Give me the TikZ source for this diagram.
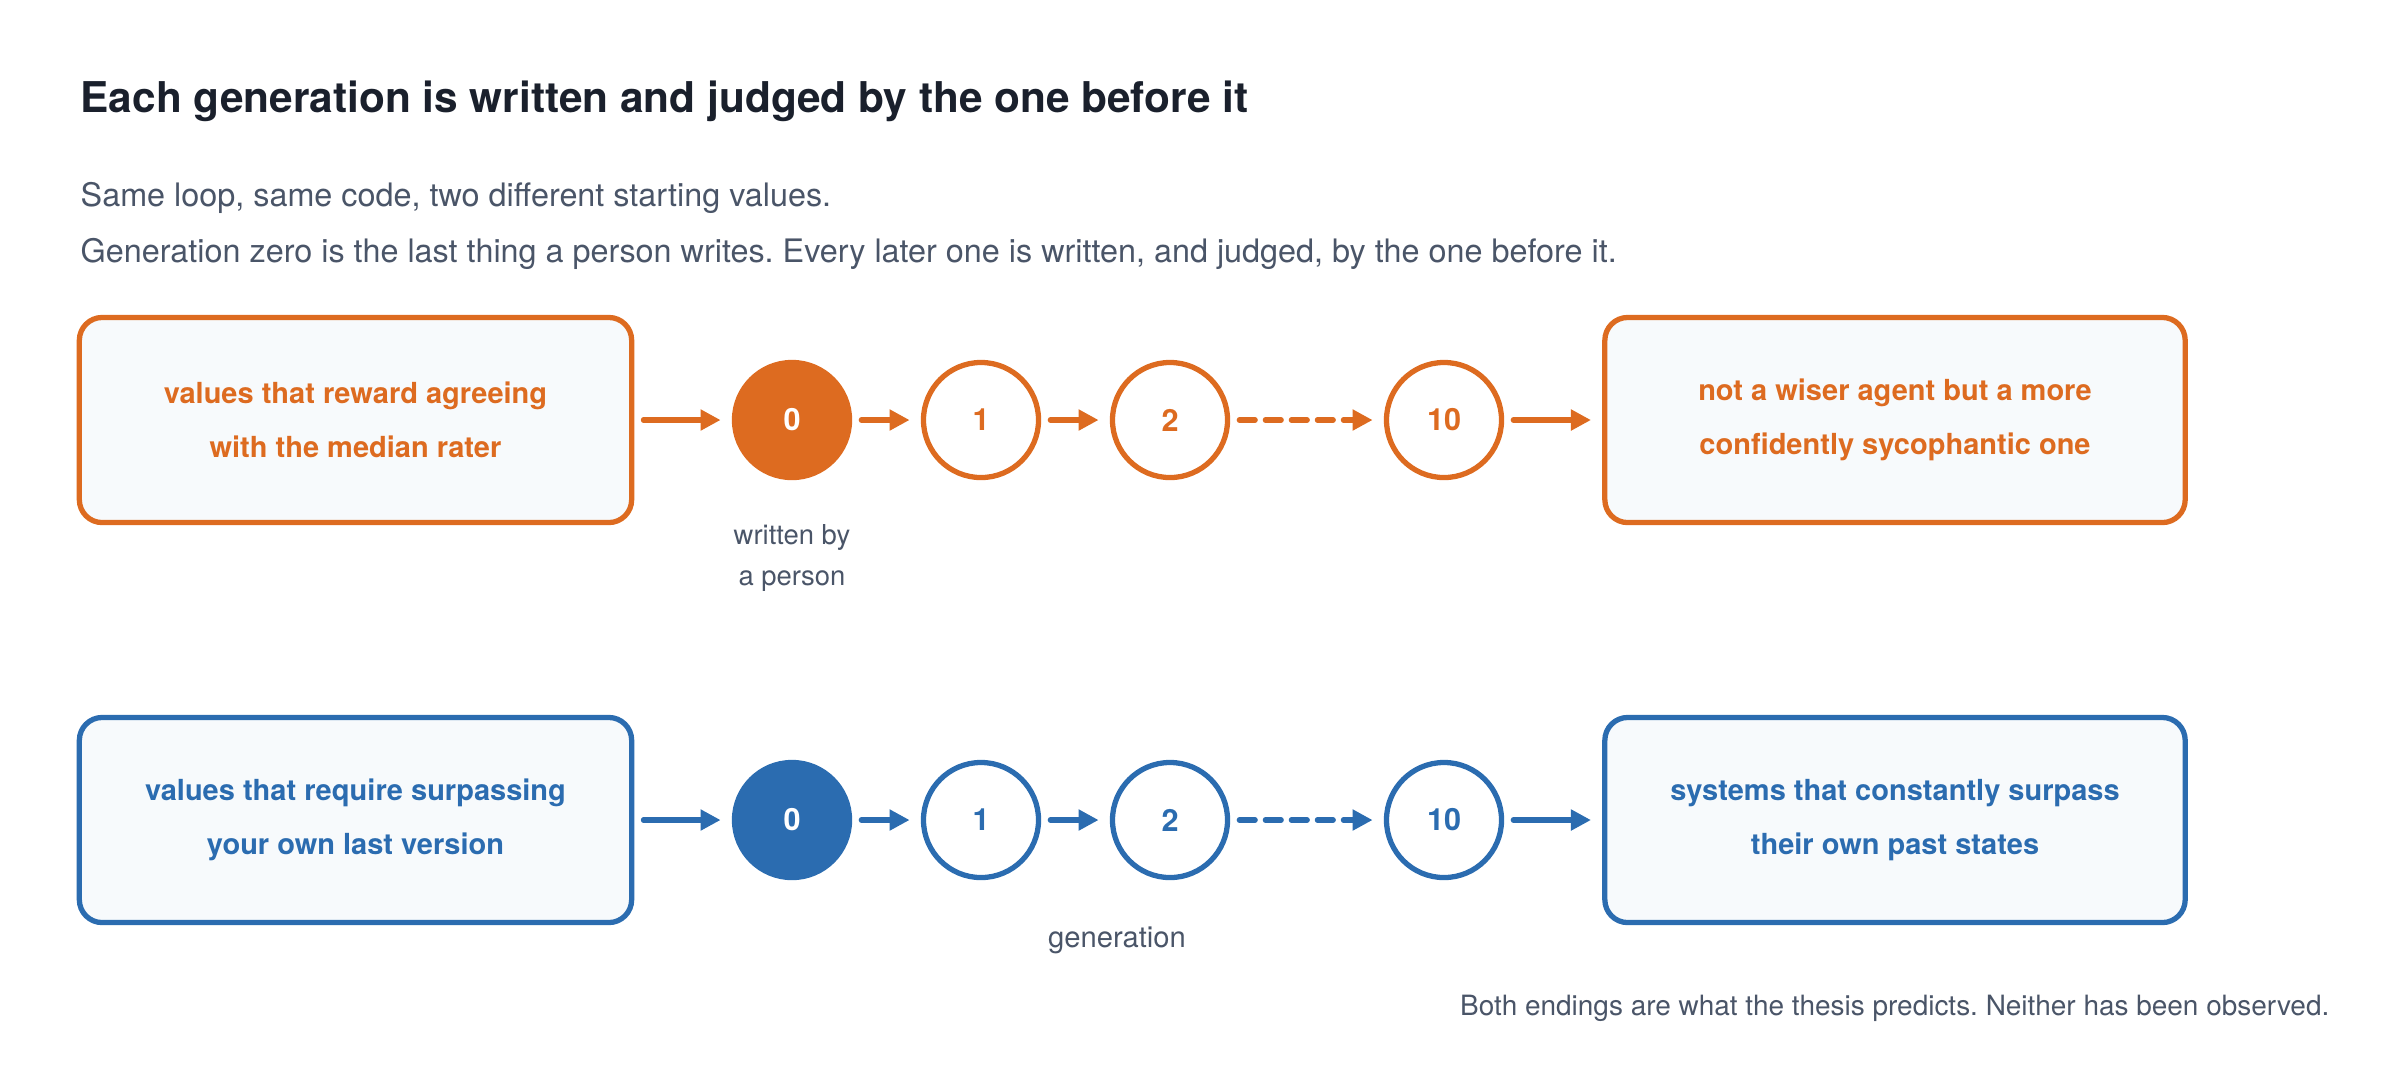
\documentclass[tikz,border=0pt]{standalone}
\usepackage{fontspec}
\setmainfont{TeX Gyre Heros}
\usetikzlibrary{arrows.meta}
\definecolor{orng}{HTML}{DD6B20}
\definecolor{blu}{HTML}{2B6CB0}
\definecolor{ink}{HTML}{1A202C}
\definecolor{slate}{HTML}{4A5568}
\definecolor{pale}{HTML}{F7FAFC}
\frenchspacing
\tikzset{
  endbox/.style={draw=#1, fill=pale, text=#1, line width=1.5pt, rounded corners=6.5pt,
    minimum height=2.05cm, align=center, font=\fontsize{8.25}{15.4}\selectfont\bfseries},
  gen/.style={circle, draw=#1, fill=white, text=#1, line width=1.5pt, minimum size=1.15cm,
    inner sep=0pt, font=\fontsize{8.7}{10}\selectfont\bfseries},
  firstgen/.style={gen=#1, fill=#1, text=white},
  link/.style={draw=#1, line width=1.5pt, line cap=round, shorten <=2.6pt, shorten >=3.2pt,
    -{Triangle[length=5.7pt,width=5.7pt]}},
  farlink/.style={link=#1, dash pattern=on 4.5pt off 2.9pt},
  note/.style={text=slate, inner sep=0pt, align=center, font=\fontsize{7.8}{11.7}\selectfont}
}
\begin{document}
\begin{tikzpicture}[x=0.01cm, y=-0.01cm]
\useasboundingbox (0,0) rectangle (2407,1090);

\node[anchor=base west, inner sep=0pt, text=ink, font=\fontsize{12.05}{14}\selectfont\bfseries] (title) at (80,112) {Each generation is written and judged by the one before it};
\node[anchor=base west, inner sep=0pt, text=slate, font=\fontsize{9.2}{11}\selectfont] (sub1) at (80,206) {Same loop, same code, two different starting values.};
\node[anchor=base west, inner sep=0pt, text=slate, font=\fontsize{9.2}{11}\selectfont] (sub2) at (80,262) {Generation zero is the last thing a person writes. Every later one is written, and judged, by the one before it.};

\node[endbox=orng, minimum width=5.52cm] (srcA) at (355.5,420) {values that reward agreeing\\with the median rater};
\node[firstgen=orng] (a0) at (792,420) {0};
\node[gen=orng] (a1) at (981,420) {1};
\node[gen=orng] (a2) at (1170,420) {2};
\node[gen=orng] (a10) at (1444,420) {10};
\node[endbox=orng, minimum width=5.80cm] (endA) at (1895,420) {not a wiser agent but a more\\confidently sycophantic one};

\draw[link=orng] (srcA) -- (a0);
\draw[link=orng] (a0) -- (a1);
\draw[link=orng] (a1) -- (a2);
\draw[farlink=orng] (a2) -- (a10);
\draw[link=orng] (a10) -- (endA);

\node[note, anchor=north] (person) at (792,524) {written by\\a person};

\node[endbox=blu, minimum width=5.52cm] (srcB) at (355.5,820) {values that require surpassing\\your own last version};
\node[firstgen=blu] (b0) at (792,820) {0};
\node[gen=blu] (b1) at (981,820) {1};
\node[gen=blu] (b2) at (1170,820) {2};
\node[gen=blu] (b10) at (1444,820) {10};
\node[endbox=blu, minimum width=5.80cm] (endB) at (1895,820) {systems that constantly surpass\\their own past states};

\draw[link=blu] (srcB) -- (b0);
\draw[link=blu] (b0) -- (b1);
\draw[link=blu] (b1) -- (b2);
\draw[farlink=blu] (b2) -- (b10);
\draw[link=blu] (b10) -- (endB);

\node[note, anchor=base, font=\fontsize{8.3}{10}\selectfont] (genlabel) at (1117,947) {generation};
\node[note, anchor=base east, font=\fontsize{7.95}{10}\selectfont] (footer) at (2330,1015) {Both endings are what the thesis predicts. Neither has been observed.};
\end{tikzpicture}
\end{document}
